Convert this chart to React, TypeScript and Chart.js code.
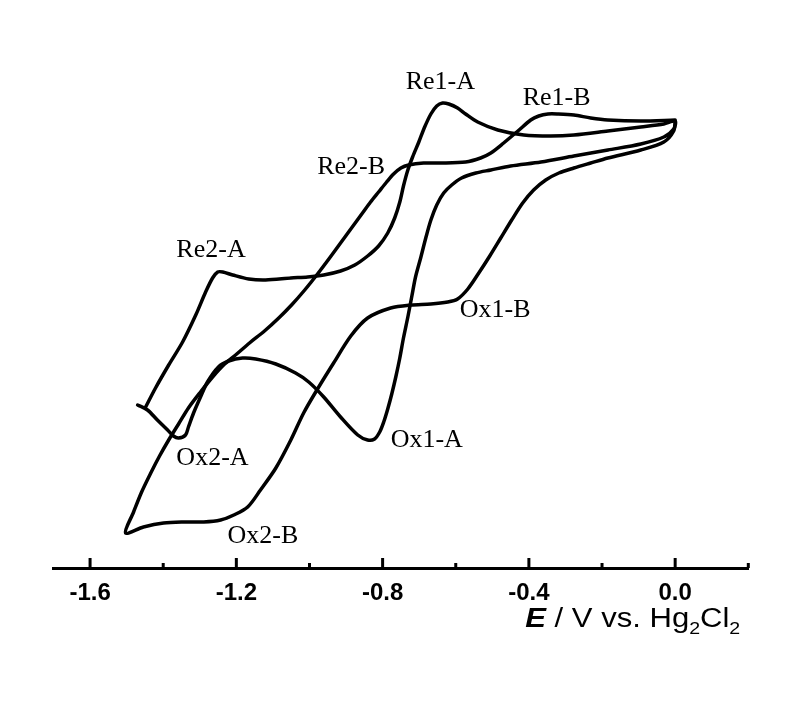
import React, { useEffect, useRef } from "react";
import { Chart, registerables } from "chart.js";

Chart.register(...registerables);

// Curve A: starts at the switching point (about -1.45 V), anodic return, then cathodic scan
const scanA_E = [
  -1.47, -1.443, -1.416, -1.388, -1.372, -1.358, -1.339, -1.331, -1.317, -1.298,
  -1.279, -1.249, -1.221, -1.183, -1.147, -1.092, -1.038, -1.002, -0.961, -0.915,
  -0.868,
  -0.841, -0.822, -0.808, -0.797, -0.786, -0.775, -0.764, -0.753, -0.743, -0.731,
  -0.72, -0.71, -0.696, -0.682, -0.668, -0.652, -0.633, -0.611, -0.584, -0.545,
  -0.504, -0.45, -0.367,
  -0.277, -0.184, -0.094, -0.031, -0.004, 0.0,
  -0.031, -0.094, -0.184, -0.277, -0.34, -0.414, -0.485, -0.54, -0.573, -0.595,
  -0.619, -0.636, -0.652, -0.668, -0.685, -0.701, -0.718,
  -0.731, -0.743, -0.753, -0.767, -0.786, -0.811, -0.841, -0.876, -0.915, -0.961,
  -1.005, -1.051, -1.12, -1.166, -1.21, -1.237, -1.251, -1.265, -1.284, -1.311,
  -1.347, -1.385, -1.421, -1.448,
];
const scanA_I = [
  16.3, 15.8, 14.8, 13.8, 13.2, 13.0, 13.3, 14.1, 15.5, 17.1,
  18.6, 20.1, 20.7, 21.0, 20.9, 20.4, 19.5, 18.6, 17.1, 15.1,
  13.3,
  12.8, 12.9, 13.6, 14.6, 15.9, 17.4, 19.1, 21.0, 23.0, 25.1,
  27.2, 29.1, 31.0, 33.0, 34.8, 36.3, 37.5, 38.3, 39.0, 39.5,
  39.8, 40.2, 40.6,
  41.2, 41.8, 42.4, 43.1, 43.9, 44.7,
  44.4, 44.1, 43.7, 43.3, 43.2, 43.3, 43.8, 44.6, 45.4, 46.0,
  46.4, 46.5, 46.2, 45.4, 44.1, 42.6, 41.1,
  39.8, 38.2, 36.6, 35.0, 33.5, 32.2, 31.2, 30.3, 29.7, 29.3,
  29.1, 29.0, 28.8, 28.9, 29.3, 29.6, 29.6, 29.0, 27.6, 25.3,
  22.6, 20.3, 18.0, 16.1,
];

// Curve B: starts at 0.0 V, cathodic scan to -1.5 V, then anodic return
const scanB_E = [
  0.0, -0.094, -0.184, -0.231, -0.277, -0.321, -0.348, -0.373, -0.395, -0.43,
  -0.469, -0.504, -0.532, -0.573, -0.642, -0.688,
  -0.729, -0.75, -0.77, -0.789, -0.811, -0.833, -0.857, -0.885, -0.915, -0.945,
  -0.978, -1.013, -1.049, -1.084, -1.123, -1.164, -1.199, -1.232, -1.265, -1.298,
  -1.331, -1.358, -1.385, -1.41, -1.434, -1.459, -1.481, -1.503,
  -1.454, -1.399, -1.344, -1.289, -1.243, -1.207, -1.169, -1.134, -1.092, -1.051,
  -1.016, -0.978, -0.934, -0.887, -0.841, -0.778, -0.723, -0.668, -0.622, -0.595,
  -0.567, -0.537, -0.507, -0.477, -0.447, -0.417, -0.387, -0.354, -0.318, -0.277,
  -0.231, -0.184,
  -0.094, -0.031, -0.004, 0.0,
];
const scanB_I = [
  44.8, 44.7, 44.8, 45.0, 45.3, 45.4, 45.4, 45.2, 44.8, 43.7,
  42.5, 41.5, 41.0, 40.6, 40.5, 40.5,
  40.3, 40.0, 39.4, 38.6, 37.6, 36.6, 35.4, 34.0, 32.5, 31.0,
  29.4, 27.8, 26.3, 25.0, 23.7, 22.5, 21.4, 20.4, 19.1, 17.6,
  16.0, 14.4, 12.8, 11.2, 9.5, 7.6, 5.6, 3.5,
  4.1, 4.5, 4.6, 4.6, 4.8, 5.3, 6.1, 7.8, 10.0, 12.8,
  15.5, 17.9, 20.5, 23.2, 25.0, 26.0, 26.3, 26.4, 26.6, 26.9,
  27.9, 29.5, 31.2, 33.0, 34.8, 36.5, 37.8, 38.8, 39.5, 40.0,
  40.5, 41.0,
  41.8, 42.6, 43.7, 44.7,
];

const tickValues = [-1.6, -1.4, -1.2, -1.0, -0.8, -0.6, -0.4, -0.2, 0.0, 0.2];
const labeledTicks = [-1.6, -1.2, -0.8, -0.4, 0.0];

const peakNames = ["Re1-A", "Re1-B", "Re2-B", "Re2-A", "Ox1-B", "Ox1-A", "Ox2-A", "Ox2-B"];
const peakLabelE = [-0.737, -0.417, -0.979, -1.364, -0.589, -0.778, -1.364, -1.224];
const peakLabelI = [47.9, 46.3, 39.4, 31.1, 25.1, 12.1, 10.3, 2.5];

const isLabeled = (v: number) => labeledTicks.some((t) => Math.abs(t - v) < 1e-6);

const SANS = "'Liberation Sans', Arial, sans-serif";
const SERIF = "'Liberation Serif', 'Times New Roman', serif";

export default function App() {
  const ref = useRef<HTMLCanvasElement | null>(null);

  useEffect(() => {
    if (!ref.current) return;

    const inwardTicks = {
      id: "inwardTicks",
      afterDraw(chart: any) {
        const xs = chart.scales.x;
        const ctx = chart.ctx;
        ctx.save();
        ctx.strokeStyle = "#000";
        ctx.lineWidth = 3;
        const y0 = xs.top;
        xs.ticks.forEach((t: any) => {
          const px = xs.getPixelForValue(t.value);
          const len = isLabeled(t.value) ? 10 : 5;
          ctx.beginPath();
          ctx.moveTo(px, y0);
          ctx.lineTo(px, y0 - len);
          ctx.stroke();
        });
        ctx.restore();
      },
    };

    const axisTitle = {
      id: "axisTitle",
      afterDraw(chart: any) {
        const xs = chart.scales.x;
        const ctx = chart.ctx;
        const parts = [
          { t: "E", f: `italic bold 27px ${SANS}`, dy: 0 },
          { t: " / V vs. Hg", f: `27px ${SANS}`, dy: 0 },
          { t: "2", f: `17px ${SANS}`, dy: 7 },
          { t: "Cl", f: `27px ${SANS}`, dy: 0 },
          { t: "2", f: `17px ${SANS}`, dy: 7 },
        ];
        ctx.save();
        ctx.fillStyle = "#000";
        ctx.textBaseline = "alphabetic";
        ctx.textAlign = "left";
        ctx.translate(xs.getPixelForValue(-0.41), xs.top + 59);
        ctx.scale(1.15, 1);
        let x = 0;
        parts.forEach((p) => {
          ctx.font = p.f;
          ctx.fillText(p.t, x, p.dy);
          x += ctx.measureText(p.t).width;
        });
        ctx.restore();
      },
    };

    const peakLabels = {
      id: "peakLabels",
      afterDraw(chart: any) {
        const xs = chart.scales.x;
        const ys = chart.scales.y;
        const ctx = chart.ctx;
        ctx.save();
        ctx.fillStyle = "#000";
        ctx.font = `26px ${SERIF}`;
        ctx.textBaseline = "alphabetic";
        ctx.textAlign = "left";
        peakNames.forEach((n, i) => {
          ctx.fillText(n, xs.getPixelForValue(peakLabelE[i]), ys.getPixelForValue(peakLabelI[i]));
        });
        ctx.restore();
      },
    };

    const lineStyle = {
      borderColor: "#000",
      borderWidth: 3.5,
      pointRadius: 0,
      showLine: true,
      tension: 0.3,
      fill: false,
      borderJoinStyle: "round" as const,
      borderCapStyle: "round" as const,
    };

    const chart = new Chart(ref.current, {
      type: "scatter",
      data: {
        datasets: [
          { label: "A", data: scanA_E.map((e, i) => ({ x: e, y: scanA_I[i] })), ...lineStyle },
          { label: "B", data: scanB_E.map((e, i) => ({ x: e, y: scanB_I[i] })), ...lineStyle },
        ],
      },
      options: {
        responsive: false,
        animation: false,
        devicePixelRatio: 1,
        layout: { padding: { left: 53.5, right: 51.7, top: 0, bottom: 0 } },
        plugins: { legend: { display: false }, tooltip: { enabled: false } },
        scales: {
          x: {
            type: "linear",
            position: "bottom",
            min: -1.7,
            max: 0.2,
            afterBuildTicks: (scale: any) => {
              scale.ticks = tickValues.map((v) => ({ value: v }));
            },
            afterFit: (scale: any) => {
              scale.height = 139;
            },
            grid: { display: false, drawTicks: false },
            border: { display: true, color: "#000", width: 3 },
            ticks: {
              color: "#000",
              padding: 11,
              maxRotation: 0,
              autoSkip: false,
              font: { family: SANS, size: 24, weight: "bold" },
              callback: (v: any) => (isLabeled(Number(v)) ? Number(v).toFixed(1) : ""),
            },
          },
          y: {
            type: "linear",
            display: false,
            min: 0,
            max: 56.8,
          },
        },
      },
      plugins: [inwardTicks, axisTitle, peakLabels],
    });

    return () => chart.destroy();
  }, []);

  return (
    <div style={{ position: "absolute", left: 0, top: 0, width: 800, height: 707, background: "#fff" }}>
      <canvas ref={ref} width={800} height={707} style={{ display: "block" }} />
    </div>
  );
}
